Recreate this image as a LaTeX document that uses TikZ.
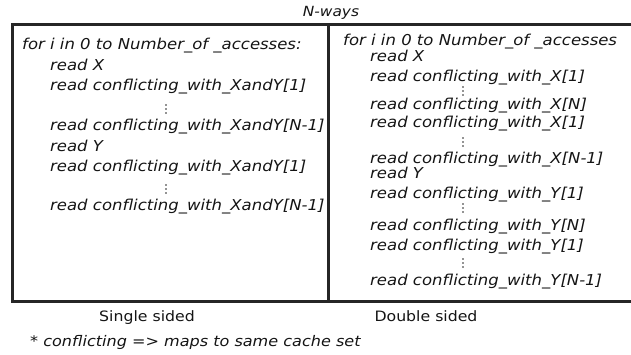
\documentclass[tikz,border=0pt]{standalone}
\usepackage{fontspec}
\setmainfont{DejaVu Sans}[FakeStretch=1.1]
\begin{document}
\begin{tikzpicture}[x=1pt,y=1pt,
  code/.style={anchor=base west,inner sep=0pt,font=\fontsize{15}{16}\selectfont\itshape,text=black!92},
  lab/.style={anchor=base,inner sep=0pt,font=\fontsize{14.3}{15}\selectfont,text=black!92},
  frame/.style={line width=3pt,draw=black!85},
  dotsv/.pic={\fill[black!85] (0,-4) circle (0.8) (0,0) circle (0.8) (0,4) circle (0.8);}]
\useasboundingbox (0,0) rectangle (631,354);
\coordinate (lt) at (12.5,329);
\coordinate (mt) at (328.5,329);
\coordinate (mb) at (328.5,53);
\coordinate (rt) at (631,329);
\coordinate (rb) at (631,53);
\draw[frame] (lt) rectangle (mb);
\draw[frame] (mt) -- (rt);
\draw[frame] (mb) -- (rb);
\node[lab,font=\fontsize{14}{15}\selectfont\itshape] (nways) at (331,337) {N-ways};
% left column
\node[code] (l1) at (22,304) {for i in 0 to Number\_of \_accesses:};
\node[code] (l2) at (50,283) {read X};
\node[code] (l3) at (50,263) {read conflicting\_with\_XandY[1]};
\pic at (166,245) {dotsv};
\node[code] (l5) at (50,224) {read conflicting\_with\_XandY[N-1]};
\node[code] (l6) at (50,203) {read Y};
\node[code] (l7) at (50,183) {read conflicting\_with\_XandY[1]};
\pic at (166,165) {dotsv};
\node[code] (l9) at (50,144) {read conflicting\_with\_XandY[N-1]};
% right column
\node[code] (r1) at (343,308) {for i in 0 to Number\_of \_accesses};
\node[code] (r2) at (370,292) {read X};
\node[code] (r3) at (370,272) {read conflicting\_with\_X[1]};
\pic at (463,263) {dotsv};
\node[code] (r5) at (370,244) {read conflicting\_with\_X[N]};
\node[code] (r6) at (370,226) {read conflicting\_with\_X[1]};
\pic at (463,212) {dotsv};
\node[code] (r8) at (370,191) {read conflicting\_with\_X[N-1]};
\node[code] (r9) at (370,176) {read Y};
\node[code] (r10) at (370,156) {read conflicting\_with\_Y[1]};
\pic at (463,146) {dotsv};
\node[code] (r12) at (370,124) {read conflicting\_with\_Y[N]};
\node[code] (r13) at (370,104) {read conflicting\_with\_Y[1]};
\pic at (463,91) {dotsv};
\node[code] (r15) at (370,69) {read conflicting\_with\_Y[N-1]};
% labels
\node[lab] (single) at (147,33) {Single sided};
\node[lab] (double) at (426,33) {Double sided};
\node[code,font=\fontsize{14.6}{16}\selectfont\itshape] (foot) at (30,8) {* conflicting => maps to same cache set};
\end{tikzpicture}
\end{document}
